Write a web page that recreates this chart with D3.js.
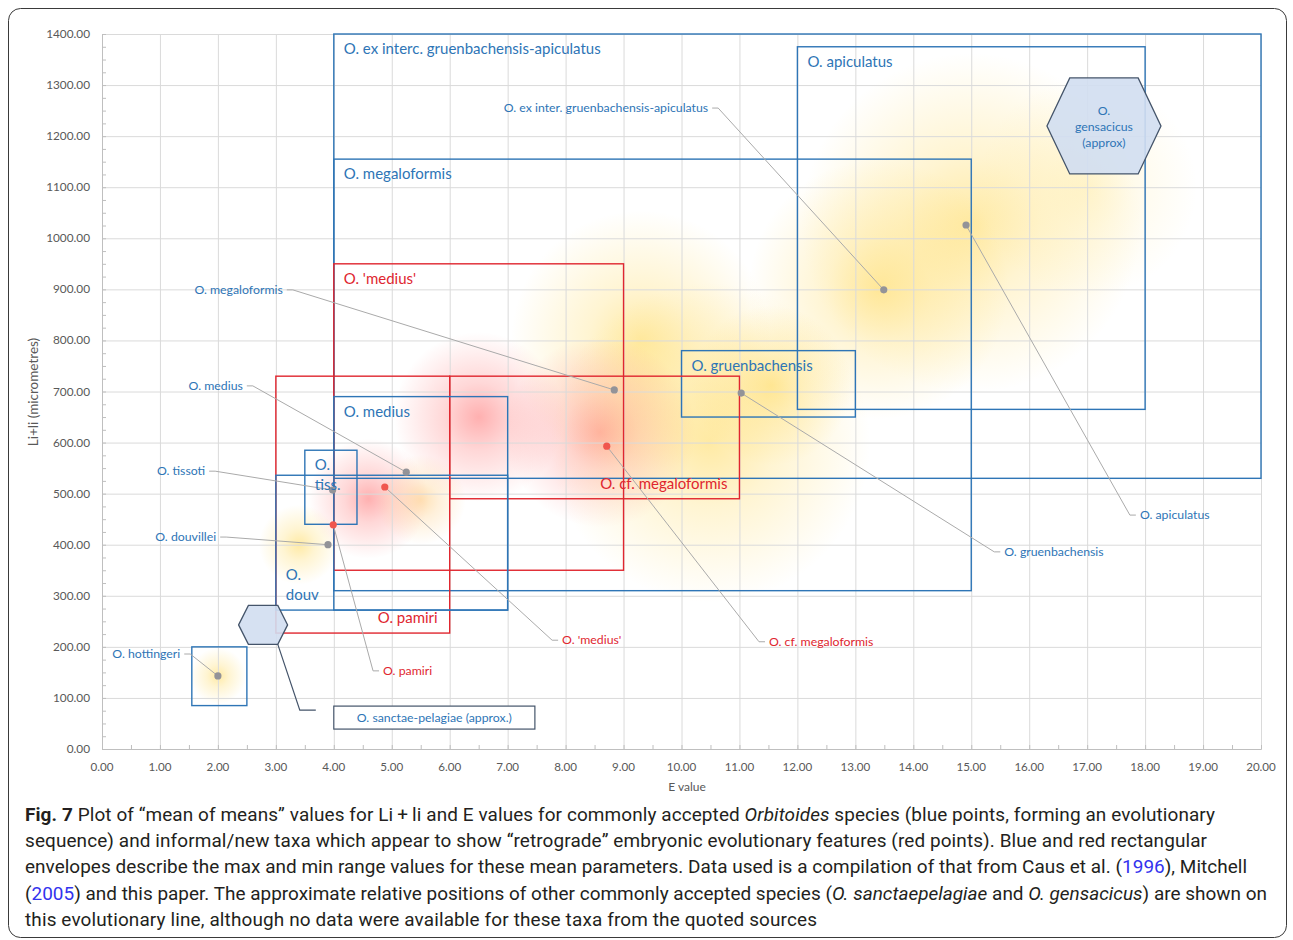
<!DOCTYPE html>
<html>
<head>
<meta charset="utf-8">
<script src="https://cdn.jsdelivr.net/npm/d3@7"></script>
<style>
  body { margin: 0; background: #ffffff; }
  svg { display: block; }
</style>
</head>
<body>
<div id="chart"></div>
<script>
// ---- data ----
const xTicks = d3.range(0, 21, 1);
const yTicks = d3.range(0, 1401, 100);

// max/min envelopes of the mean values (E, Li+li)
const envNames = ["O. ex interc. gruenbachensis-apiculatus", "O. apiculatus", "O. megaloformis", "O. 'medius'",
  "O. gruenbachensis", "O. cf. megaloformis", "O. pamiri", "O. medius", "O.\ndouv", "O.\ntiss.", ""];
const envGroup = ["blue", "blue", "blue", "red", "blue", "red", "red", "blue", "blue", "blue", "blue"];
const envEmin = [4, 12, 4, 4, 10, 6, 3, 4, 3, 3.5, 1.55];
const envEmax = [20, 18, 15, 9, 13, 11, 6, 7, 7, 4.4, 2.5];
const envLmin = [530, 665, 310, 350, 650, 490, 227, 272, 272, 440, 85];
const envLmax = [1400, 1375, 1155, 950, 780, 730, 730, 690, 536, 585, 200];

// "mean of means" points
const taxa = ["O. hottingeri", "O. douvillei", "O. tissoti", "O. medius", "O. megaloformis", "O. gruenbachensis",
  "O. ex inter. gruenbachensis-apiculatus", "O. apiculatus", "O. pamiri", "O. 'medius'", "O. cf. megaloformis"];
const taxaGroup = ["blue", "blue", "blue", "blue", "blue", "blue", "blue", "blue", "red", "red", "red"];
const eValues = [2.0, 3.9, 3.98, 5.25, 8.84, 11.03, 13.49, 14.91, 3.99, 4.88, 8.71];
const liValues = [143, 400, 507, 542, 703, 697, 899, 1026, 439, 513, 593];

// species without data (approximate positions)
const approxNames = ["O.\ngensacicus\n(approx)", "O. sanctae-pelagiae (approx.)"];
const approxE = [17.29, 2.78];
const approxLi = [1220, 243];

// ---- layout ----
const W = 1293, H = 940;
const plot = { left: 102, right: 1261, top: 34, bottom: 749 };

const colors = {
  blue: "#2e75b6",
  red: "#e0262f",
  bluePoint: "#939398",
  redPoint: "#f0564e",
  grid: "#dadada",
  axis: "#bfbfbf",
  tick: "#595959",
  leader: "#aaaaaa",
  hexFill: "#d2def1",
  hexStroke: "#44546a"
};

// where each envelope label sits: tl = top-left, br = bottom-right, bl = bottom-left
const envLabelPos = ["tl", "tl", "tl", "tl", "tl", "br", "br", "tl", "bl", "tl", "tl"];

// callout label anchor (in data units) and side of the label
const calloutE = [1.35, 1.97, 1.78, 2.43, 3.12, 15.57, 10.46, 17.91, 4.85, 7.94, 11.51];
const calloutLi = [186, 415, 544, 711, 899, 386, 1255, 458, 153, 213, 210];
const calloutSide = ["left", "left", "left", "left", "left", "right", "left", "right", "right", "right", "right"];

// soft glows behind the points
const glowE = [15.0, 13.4, 9.3, 11.55, 6.5, 8.6, 4.6, 5.5, 3.4, 2.0, 10.5, 17.0];
const glowLi = [1030, 900, 800, 712, 650, 620, 490, 488, 400, 143, 600, 1100];
const glowR = [170, 130, 130, 80, 85, 95, 60, 45, 40, 28, 160, 110];
const glowKind = ["y", "y", "y", "y", "r", "r", "r", "o", "y", "y", "y", "f"];

const chartFont = "Lato, 'Open Sans', sans-serif";

const svg = d3.select("#chart")
  .append("svg")
  .attr("width", W)
  .attr("height", H);

const x = d3.scaleLinear().domain([0, 20]).range([plot.left, plot.right]);
const y = d3.scaleLinear().domain([0, 1400]).range([plot.bottom, plot.top]);

// gradients for the glows
const defs = svg.append("defs");
const glowColors = { y: "#ffd54a", r: "#ff7b7b", o: "#ffc36a", f: "#ffe27a" };
const glowOpacity = { y: 0.5, r: 0.6, o: 0.5, f: 0.3 };
Object.keys(glowColors).forEach(k => {
  const g = defs.append("radialGradient").attr("id", "glow-" + k);
  g.append("stop").attr("offset", "0%").attr("stop-color", glowColors[k]).attr("stop-opacity", glowOpacity[k]);
  g.append("stop").attr("offset", "40%").attr("stop-color", glowColors[k]).attr("stop-opacity", glowOpacity[k] * 0.5);
  g.append("stop").attr("offset", "100%").attr("stop-color", glowColors[k]).attr("stop-opacity", 0);
});

// figure frame
svg.append("rect")
  .attr("x", 8.5).attr("y", 8.5)
  .attr("width", 1278).attr("height", 929)
  .attr("rx", 12).attr("ry", 12)
  .attr("fill", "#ffffff")
  .attr("stroke", "#3a3a3a")
  .attr("stroke-width", 1);

// glows (clipped to plot)
defs.append("clipPath").attr("id", "plot-clip")
  .append("rect")
  .attr("x", plot.left).attr("y", plot.top)
  .attr("width", plot.right - plot.left).attr("height", plot.bottom - plot.top);

svg.append("g")
  .attr("clip-path", "url(#plot-clip)")
  .selectAll("circle")
  .data(d3.range(glowE.length))
  .enter()
  .append("circle")
  .attr("cx", i => x(glowE[i]))
  .attr("cy", i => y(glowLi[i]))
  .attr("r", i => glowR[i])
  .attr("fill", i => `url(#glow-${glowKind[i]})`);

// grid
svg.append("g")
  .attr("transform", `translate(0,${plot.bottom})`)
  .call(d3.axisBottom(x).tickValues(xTicks).tickSize(-(plot.bottom - plot.top)).tickFormat(""))
  .call(g => g.select(".domain").remove())
  .selectAll("line")
  .attr("stroke", colors.grid);

svg.append("g")
  .attr("transform", `translate(${plot.left},0)`)
  .call(d3.axisLeft(y).tickValues(yTicks).tickSize(-(plot.right - plot.left)).tickFormat(""))
  .call(g => g.select(".domain").remove())
  .selectAll("line")
  .attr("stroke", colors.grid);

// minor ticks (inside)
svg.append("g")
  .attr("transform", `translate(0,${plot.bottom})`)
  .call(d3.axisTop(x).tickValues(d3.range(0, 20.01, 0.5)).tickSize(4).tickFormat(""))
  .call(g => g.select(".domain").attr("stroke", colors.axis))
  .selectAll("line")
  .attr("stroke", colors.axis);

svg.append("g")
  .attr("transform", `translate(${plot.left},0)`)
  .call(d3.axisRight(y).tickValues(d3.range(0, 1401, 25)).tickSize(4).tickFormat(""))
  .call(g => g.select(".domain").attr("stroke", colors.axis))
  .selectAll("line")
  .attr("stroke", colors.axis);

// tick labels
svg.append("g")
  .selectAll("text")
  .data(xTicks)
  .enter()
  .append("text")
  .attr("x", d => x(d))
  .attr("y", 771)
  .attr("text-anchor", "middle")
  .attr("font-family", chartFont)
  .attr("font-size", "11.6px")
  .attr("fill", colors.tick)
  .text(d => d.toFixed(2));

svg.append("g")
  .selectAll("text")
  .data(yTicks)
  .enter()
  .append("text")
  .attr("x", 90)
  .attr("y", d => y(d) + 4)
  .attr("text-anchor", "end")
  .attr("font-family", chartFont)
  .attr("font-size", "11.8px")
  .attr("fill", colors.tick)
  .text(d => d.toFixed(2));

// axis titles
svg.append("text")
  .attr("x", 687)
  .attr("y", 791)
  .attr("text-anchor", "middle")
  .attr("font-family", chartFont)
  .attr("font-size", "12px")
  .attr("fill", colors.tick)
  .text("E value");

svg.append("text")
  .attr("transform", "translate(38,392) rotate(-90)")
  .attr("text-anchor", "middle")
  .attr("font-family", chartFont)
  .attr("font-size", "13.5px")
  .attr("fill", colors.tick)
  .text("Li+li (micrometres)");

// envelopes
const envIdx = d3.range(envNames.length);
svg.append("g")
  .selectAll("rect")
  .data(envIdx)
  .enter()
  .append("rect")
  .attr("x", i => x(envEmin[i]))
  .attr("y", i => y(envLmax[i]))
  .attr("width", i => x(envEmax[i]) - x(envEmin[i]))
  .attr("height", i => y(envLmin[i]) - y(envLmax[i]))
  .attr("fill", "none")
  .attr("stroke", i => colors[envGroup[i]])
  .attr("stroke-width", 1.4);

// leader lines
const ptIdx = d3.range(taxa.length);
const leader = i => {
  const px = x(eValues[i]), py = y(liValues[i]);
  const lx = x(calloutE[i]), ly = y(calloutLi[i]);
  if (calloutSide[i] === "left") {
    return [[lx + 4, ly], [lx + 10, ly], [px, py]];
  }
  return [[px, py], [lx - 10, ly], [lx - 4, ly]];
};

svg.append("g")
  .selectAll("path")
  .data(ptIdx)
  .enter()
  .append("path")
  .attr("d", i => d3.line()(leader(i)))
  .attr("fill", "none")
  .attr("stroke", colors.leader)
  .attr("stroke-width", 1);

// points
svg.append("g")
  .selectAll("circle")
  .data(ptIdx)
  .enter()
  .append("circle")
  .attr("cx", i => x(eValues[i]))
  .attr("cy", i => y(liValues[i]))
  .attr("r", 3.6)
  .attr("fill", i => taxaGroup[i] === "red" ? colors.redPoint : colors.bluePoint);

// callout labels
svg.append("g")
  .selectAll("text")
  .data(ptIdx)
  .enter()
  .append("text")
  .attr("x", i => x(calloutE[i]))
  .attr("y", i => y(calloutLi[i]) + 4)
  .attr("text-anchor", i => calloutSide[i] === "left" ? "end" : "start")
  .attr("font-family", chartFont)
  .attr("font-size", "12.3px")
  .attr("fill", i => colors[taxaGroup[i]])
  .text(i => taxa[i]);

// envelope labels
const envLabels = svg.append("g");
envIdx.forEach(i => {
  if (!envNames[i]) return;
  const lines = envNames[i].split("\n");
  const pos = envLabelPos[i];
  let tx, ty, anchor = "start";
  if (pos === "tl") {
    tx = x(envEmin[i]) + 10;
    ty = y(envLmax[i]) + 20;
  } else if (pos === "br") {
    tx = x(envEmax[i]) - 12;
    ty = y(envLmin[i]) - 10 - (lines.length - 1) * 20;
    anchor = "end";
  } else {
    tx = x(envEmin[i]) + 10;
    ty = y(envLmin[i]) - 10 - (lines.length - 1) * 20;
  }
  const t = envLabels.append("text")
    .attr("x", tx)
    .attr("y", ty)
    .attr("text-anchor", anchor)
    .attr("font-family", chartFont)
    .attr("font-size", "15px")
    .attr("fill", colors[envGroup[i]]);
  lines.forEach((s, k) => {
    t.append("tspan").attr("x", tx).attr("dy", k === 0 ? 0 : 20).text(s);
  });
});

// approximate species: hexagons
const hexHalfW = [57, 24.5];
const hexHalfH = [48, 19.5];
const hexPath = (cx, cy, w, h) => {
  const e = w * 0.6;
  return d3.line()([[cx - w, cy], [cx - e, cy - h], [cx + e, cy - h], [cx + w, cy],
    [cx + e, cy + h], [cx - e, cy + h], [cx - w, cy]]) + "Z";
};

svg.append("g")
  .selectAll("path")
  .data(d3.range(approxNames.length))
  .enter()
  .append("path")
  .attr("d", i => hexPath(x(approxE[i]), y(approxLi[i]), hexHalfW[i], hexHalfH[i]))
  .attr("fill", colors.hexFill)
  .attr("fill-opacity", 0.9)
  .attr("stroke", colors.hexStroke)
  .attr("stroke-width", 1.3);

// gensacicus text inside hexagon
{
  const cx = x(approxE[0]), cy = y(approxLi[0]);
  const t = svg.append("text")
    .attr("text-anchor", "middle")
    .attr("font-family", chartFont)
    .attr("font-size", "12.3px")
    .attr("fill", colors.blue);
  approxNames[0].split("\n").forEach((s, k) => {
    t.append("tspan").attr("x", cx).attr("y", cy - 11 + k * 16).text(s);
  });
}

// sanctae-pelagiae: leader and boxed label
{
  const cx = x(approxE[1]), cy = y(approxLi[1]);
  const vx = cx + hexHalfW[1] * 0.6, vy = cy + hexHalfH[1];
  const bx = x(4.0), by = y(84), bw = x(7.47) - x(4.0), bh = y(39) - y(84);
  svg.append("path")
    .attr("d", d3.line()([[vx, vy], [vx + 22, by + 4], [vx + 38, by + 4]]))
    .attr("fill", "none")
    .attr("stroke", colors.hexStroke)
    .attr("stroke-width", 1.2);
  svg.append("rect")
    .attr("x", bx).attr("y", by)
    .attr("width", bw).attr("height", bh)
    .attr("fill", "#ffffff")
    .attr("stroke", colors.hexStroke)
    .attr("stroke-width", 1.2);
  svg.append("text")
    .attr("x", bx + bw / 2)
    .attr("y", by + bh / 2 + 4)
    .attr("text-anchor", "middle")
    .attr("font-family", chartFont)
    .attr("font-size", "12.3px")
    .attr("fill", colors.blue)
    .text(approxNames[1]);
}

// ---- caption ----
const captionLines = [
  [["Fig. 7", "b"], ["  Plot of \u201cmean of means\u201d values for Li\u2009+\u2009li and E values for commonly accepted "], ["Orbitoides", "i"], [" species (blue points, forming an evolutionary"]],
  [["sequence) and informal/new taxa which appear to show \u201cretrograde\u201d embryonic evolutionary features (red points). Blue and red rectangular"]],
  [["envelopes describe the max and min range values for these mean parameters. Data used is a compilation of that from Caus et al. ("], ["1996", "l"], ["), Mitchell"]],
  [["("], ["2005", "l"], [") and this paper. The approximate relative positions of other commonly accepted species ("], ["O. sanctaepelagiae", "i"], [" and "], ["O. gensacicus", "i"], [") are shown on"]],
  [["this evolutionary line, although no data were available for these taxa from the quoted sources"]]
];
const captionWidths = [1190, 1182, 1222, 1242, 792];

const caption = svg.append("g")
  .attr("font-family", "Roboto, 'Noto Sans', sans-serif")
  .attr("font-size", "19px")
  .attr("fill", "#231f20")
  .style("white-space", "pre");

const capTexts = captionLines.map((parts, k) => {
  const t = caption.append("text")
    .attr("x", 25)
    .attr("y", 821 + k * 26.2);
  parts.forEach(p => {
    const s = t.append("tspan").text(p[0]);
    if (p[1] === "b") s.attr("font-weight", "bold");
    if (p[1] === "i") s.attr("font-style", "italic");
    if (p[1] === "l") s.attr("fill", "#3333ee");
  });
  return t;
});

// pick one font size so the lines fit their widths, then trim spacing
const ratio = d3.min(capTexts, (t, k) => captionWidths[k] / t.node().getComputedTextLength());
caption.attr("font-size", (19 * ratio).toFixed(2) + "px");
capTexts.forEach((t, k) => {
  t.attr("textLength", captionWidths[k]).attr("lengthAdjust", "spacing");
});
</script>
</body>
</html>
